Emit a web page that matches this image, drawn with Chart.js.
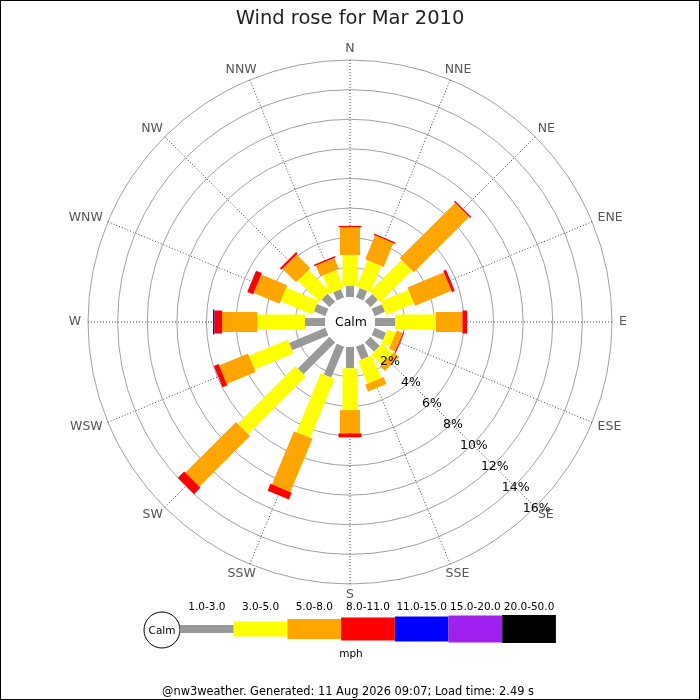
<!DOCTYPE html>
<html lang="en">
<head>
<meta charset="UTF-8">
<title>Wind rose for Mar 2010</title>
<script src="https://cdn.jsdelivr.net/npm/chart.js"></script>
<style>
  body { margin: 0; background: #fff; }
  canvas { display: block; }
</style>
</head>
<body>
<canvas id="rose" width="700" height="700"></canvas>
<script>
// compass points, clockwise from north
const directions = ['N', 'NNE', 'NE', 'ENE', 'E', 'ESE', 'SE', 'SSE', 'S', 'SSW', 'SW', 'WSW', 'W', 'WNW', 'NW', 'NNW'];
// wind speed bins, mph
const speedBins = ['1.0-3.0', '3.0-5.0', '5.0-8.0', '8.0-11.0', '11.0-15.0', '15.0-20.0', '20.0-50.0'];

// % of the month per direction, one array per speed bin
const speed1to3   = [0.74, 0.69, 0.71, 0.76, 1.35, 0.84, 0.88, 0.95, 1.44, 2.26, 3.02, 2.65, 1.35, 0.84, 0.74, 0.60];
const speed3to5   = [2.10, 1.93, 3.03, 2.03, 2.75, 0.61, 0.96, 1.66, 2.82, 4.31, 5.51, 2.84, 3.22, 2.34, 2.04, 1.31];
const speed5to8   = [1.87, 1.74, 5.27, 2.66, 1.80, 0.44, 0.48, 0.51, 1.57, 3.89, 4.84, 2.11, 2.37, 1.89, 1.30, 0.79];
const speed8to11  = [0.09, 0.09, 0.11, 0.20, 0.32, 0.07, 0, 0, 0.27, 0.51, 0.60, 0.34, 0.53, 0.43, 0.15, 0.11];
const speed11to15 = [0, 0, 0, 0, 0, 0, 0, 0, 0, 0, 0, 0, 0.09, 0, 0, 0];
const speed15to20 = [0, 0, 0, 0, 0, 0, 0, 0, 0, 0, 0, 0, 0, 0, 0, 0];
const speed20to50 = [0, 0, 0, 0, 0, 0, 0, 0, 0, 0, 0, 0, 0, 0, 0, 0];

// rings / labels on the radial axis
const ringTicks = [2, 4, 6, 8, 10, 12, 14, 16];

const binColors = ['#999999', '#ffff00', '#ffa500', '#ff0000', '#0000ff', '#a020f0', '#000000'];
const binWidths = [8, 15, 20, 23, 25, 27, 28];

const calmRadius = 25;   // px, hole in the middle
const roseRadius = 262;  // px, outer ring
// the scale starts below zero so that 0% sits on the calm circle
const scaleMin = -calmRadius * ringTicks[ringTicks.length - 1] / (roseRadius - calmRadius);

const seriesData = [speed1to3, speed3to5, speed5to8, speed8to11, speed11to15, speed15to20, speed20to50];

const font = '"DejaVu Sans", sans-serif';

const roseBars = {
  id: 'roseBars',
  beforeDatasetsDraw(chart) {
    const r = chart.scales.r;
    const ctx = chart.ctx;
    ctx.save();
    ctx.lineCap = 'butt';
    directions.forEach((d, i) => {
      let cum = 0;
      chart.data.datasets.forEach((ds, b) => {
        const v = ds.data[i];
        if (!v) return;
        const a = r.getPointPositionForValue(i, cum);
        const z = r.getPointPositionForValue(i, cum + v);
        ctx.strokeStyle = binColors[b];
        ctx.lineWidth = binWidths[b];
        ctx.beginPath();
        ctx.moveTo(a.x, a.y);
        ctx.lineTo(z.x, z.y);
        ctx.stroke();
        cum += v;
      });
    });

    // calm hole
    ctx.beginPath();
    ctx.arc(r.xCenter, r.yCenter, r.getDistanceFromCenterForValue(0), 0, Math.PI * 2);
    ctx.fillStyle = '#fff';
    ctx.fill();
    ctx.fillStyle = '#000';
    ctx.font = '12.5px ' + font;
    ctx.textAlign = 'center';
    ctx.textBaseline = 'middle';
    ctx.fillText('Calm', r.xCenter + 1, r.yCenter + 1);
    ctx.restore();
  },
  afterDraw(chart) {
    const r = chart.scales.r;
    const ctx = chart.ctx;
    ctx.save();
    ctx.textAlign = 'center';
    ctx.textBaseline = 'middle';

    // % labels along the SE spoke
    ctx.fillStyle = '#000';
    ctx.font = '12.5px ' + font;
    const se = directions.indexOf('SE');
    ringTicks.forEach(v => {
      const p = r.getPointPosition(se, r.getDistanceFromCenterForValue(v) + 2);
      ctx.fillText(v + '%', p.x, p.y);
    });

    // compass labels
    ctx.fillStyle = '#555';
    ctx.font = '12.5px ' + font;
    directions.forEach((d, i) => {
      const ang = i * Math.PI / 8;
      const p = r.getPointPosition(i, r.drawingArea + 6);
      const w = ctx.measureText(d).width;
      ctx.fillText(d, p.x + Math.sin(ang) * (w / 2 + 1), p.y - Math.cos(ang) * 5);
    });

    // speed legend
    const ly = 629, lx = 180, segW = 53.7;
    ctx.beginPath();
    ctx.arc(162, 630, 18, 0, Math.PI * 2);
    ctx.fillStyle = '#fff';
    ctx.fill();
    ctx.strokeStyle = '#000';
    ctx.lineWidth = 1;
    ctx.stroke();
    ctx.fillStyle = '#000';
    ctx.font = '10.5px ' + font;
    ctx.fillText('Calm', 162, 631);
    speedBins.forEach((lab, b) => {
      const x0 = lx + b * segW;
      ctx.fillStyle = binColors[b];
      ctx.fillRect(x0, ly - binWidths[b] / 2, segW, binWidths[b]);
      ctx.fillStyle = '#000';
      ctx.fillText(lab, x0 + segW / 2, 607);
    });
    ctx.fillText('mph', 351, 654);

    // footer
    ctx.font = '11.4px ' + font;
    ctx.fillText('@nw3weather. Generated: 11 Aug 2026 09:07; Load time: 2.49 s', 348, 692);

    // frame
    ctx.strokeStyle = '#000';
    ctx.lineWidth = 1;
    ctx.strokeRect(0.5, 0.5, 699, 699);
    ctx.restore();
  }
};

const ctx = document.getElementById('rose').getContext('2d');
const roseChart = new Chart(ctx, {
  type: 'radar',
  data: {
    labels: directions,
    datasets: speedBins.map((lab, b) => ({
      label: lab + ' mph',
      data: seriesData[b],
      showLine: false,
      pointRadius: 0,
      pointHoverRadius: 0,
      borderColor: binColors[b],
      backgroundColor: binColors[b],
      fill: false
    }))
  },
  options: {
    responsive: false,
    animation: false,
    layout: { padding: { left: 88, right: 88, top: 0, bottom: 116 } },
    plugins: {
      legend: { display: false },
      tooltip: { enabled: false },
      title: {
        display: true,
        text: 'Wind rose for Mar 2010',
        color: '#222',
        font: { family: font, size: 19.5, weight: 'normal' },
        padding: { top: 7, bottom: 29.6 }
      }
    },
    scales: {
      r: {
        min: scaleMin,
        max: ringTicks[ringTicks.length - 1],
        startAngle: 0,
        ticks: { display: false },
        pointLabels: { display: false },
        grid: { circular: true, color: '#a0a0a0', lineWidth: 1 },
        angleLines: { color: '#444', lineWidth: 1, borderDash: [1, 2] },
        afterBuildTicks: scale => {
          scale.ticks = ringTicks.map(v => ({ value: v }));
        }
      }
    }
  },
  plugins: [roseBars]
});
</script>
</body>
</html>
